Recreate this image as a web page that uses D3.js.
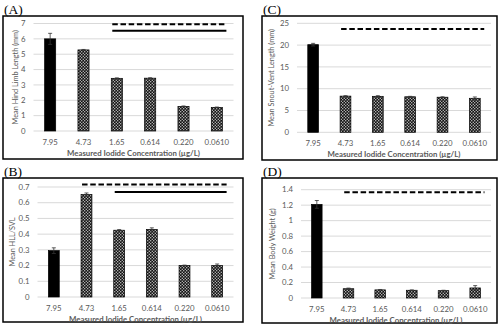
<!DOCTYPE html>
<html>
<head>
<meta charset="utf-8">
<script src="https://cdn.jsdelivr.net/npm/d3@7"></script>
<style>
  body { margin: 0; background: white; }
  svg { display: block; }
</style>
</head>
<body>
<div id="container"></div>
<script>
// categories (measured iodide concentration, ug/L)
const categories = ['7.95', '4.73', '1.65', '0.614', '0.220', '0.0610']

// panel A: hind limb length (mm)
const hllMeans = [6.0, 5.28, 3.43, 3.44, 1.6, 1.54]
const hllErrors = [0.36, 0.03, 0.03, 0.03, 0.03, 0.02]
const hllTicks = [0, 1, 2, 3, 4, 5, 6, 7]
const hllSig = [['1.65', '0.0610', 'dash', 6.95], ['1.65', '0.0610', 'solid', 6.53]]

// panel B: HLL/SVL
const ratioMeans = [0.295, 0.652, 0.425, 0.43, 0.2, 0.2]
const ratioErrors = [0.018, 0.01, 0.004, 0.01, 0.003, 0.01]
const ratioTicks = [0, 0.1, 0.2, 0.3, 0.4, 0.5, 0.6, 0.7]
const ratioSig = [['4.73', '0.0610', 'dash', 0.716], ['1.65', '0.0610', 'solid', 0.668]]

// panel C: snout-vent length (mm)
const svlMeans = [20.1, 8.3, 8.25, 8.15, 8.05, 7.8]
const svlErrors = [0.3, 0.1, 0.15, 0.1, 0.1, 0.3]
const svlTicks = [0, 5, 10, 15, 20, 25]
const svlSig = [['4.73', '0.0610', 'dash', 23.7]]

// panel D: body weight (g)
const bwMeans = [1.21, 0.12, 0.105, 0.1, 0.095, 0.13]
const bwErrors = [0.05, 0.008, 0.005, 0.005, 0.005, 0.03]
const bwTicks = [0, 0.2, 0.4, 0.6, 0.8, 1, 1.2, 1.4]
const bwSig = [['4.73', '0.0610', 'dash', 1.366]]

const FONT = 'Lato, "Open Sans", sans-serif'
const GREY = '#595959'

var svg = d3.select('#container').append('svg')
    .attr('width', 500)
    .attr('height', 326)

// checker pattern for the non-control bars
var defs = svg.append('defs')
var pat = defs.append('pattern')
    .attr('id', 'checker')
    .attr('width', 3).attr('height', 3)
    .attr('patternUnits', 'userSpaceOnUse')
pat.append('rect').attr('width', 3).attr('height', 3).attr('fill', '#111')
pat.append('rect').attr('x', 0.2).attr('y', 0.2).attr('width', 1.1).attr('height', 1.1).attr('fill', 'white')
pat.append('rect').attr('x', 1.7).attr('y', 1.7).attr('width', 1.1).attr('height', 1.1).attr('fill', 'white')

function draw_panel(p) {
    var g = svg.append('g')

    // frame
    g.append('rect')
        .attr('x', p.box[0]).attr('y', p.box[1])
        .attr('width', p.box[2]).attr('height', p.box[3])
        .attr('fill', 'none')
        .attr('stroke', 'black')
        .attr('stroke-width', 1.5)

    // panel letter
    g.append('text')
        .attr('x', p.box[0] + 1).attr('y', p.box[1] - 2.5)
        .attr('font-family', '"Liberation Serif", "DejaVu Serif", serif')
        .attr('font-size', 13.5)
        .text(p.letter)

    var x = d3.scaleBand()
        .domain(categories)
        .range([p.left, p.right])
        .paddingInner(0.667)
        .paddingOuter(0.333)

    var y = d3.scaleLinear()
        .domain([0, p.ticks[p.ticks.length - 1]])
        .range([p.bottom, p.top])

    // gridlines
    g.selectAll('.grid').data(p.ticks.slice(1)).join('line')
        .attr('x1', p.left).attr('x2', p.right)
        .attr('y1', d => y(d)).attr('y2', d => y(d))
        .attr('stroke', '#d9d9d9')
        .attr('stroke-width', 1)

    // baseline
    g.append('line')
        .attr('x1', p.left).attr('x2', p.right)
        .attr('y1', y(0)).attr('y2', y(0))
        .attr('stroke', '#d9d9d9')

    // y tick labels
    g.selectAll('.ytick').data(p.ticks).join('text')
        .attr('x', p.left - p.labelGap)
        .attr('y', d => y(d))
        .attr('dy', '0.35em')
        .attr('text-anchor', 'end')
        .attr('font-family', FONT)
        .attr('font-size', 7.8)
        .attr('fill', GREY)
        .text(d => d3.format('~g')(d))

    // x tick labels
    g.selectAll('.xtick').data(categories).join('text')
        .attr('x', d => x(d) + x.bandwidth() / 2)
        .attr('y', p.bottom + 14)
        .attr('text-anchor', 'middle')
        .attr('font-family', FONT)
        .attr('font-size', 7.8)
        .attr('fill', GREY)
        .text(d => d)

    // x axis title
    g.append('text')
        .attr('x', (p.left + p.right) / 2)
        .attr('y', p.bottom + 25)
        .attr('text-anchor', 'middle')
        .attr('font-family', FONT)
        .attr('font-size', 7.8)
        .attr('font-weight', 'bold')
        .attr('fill', GREY)
        .text('Measured Iodide Concentration (µg/L)')

    // y axis title
    g.append('text')
        .attr('transform', 'translate(' + p.titleX + ',' + ((p.top + p.bottom) / 2) + ') rotate(-90)')
        .attr('text-anchor', 'middle')
        .attr('dy', '0.35em')
        .attr('font-family', FONT)
        .attr('font-size', 7.3)
        .attr('fill', GREY)
        .text(p.yTitle)

    // bars
    g.selectAll('.bar').data(categories).join('rect')
        .attr('x', d => x(d))
        .attr('width', x.bandwidth())
        .attr('y', (d, i) => y(p.means[i]))
        .attr('height', (d, i) => y(0) - y(p.means[i]))
        .attr('fill', (d, i) => i == 0 ? 'black' : 'url(#checker)')
        .attr('stroke', 'black')
        .attr('stroke-width', 0.7)

    // error bars
    g.selectAll('.err').data(categories).join('path')
        .attr('d', function(d, i) {
            var cx = x(d) + x.bandwidth() / 2
            var hi = y(p.means[i] + p.errors[i])
            var lo = y(p.means[i] - p.errors[i])
            return 'M' + (cx - 2) + ',' + hi + 'H' + (cx + 2) +
                   'M' + cx + ',' + hi + 'V' + lo +
                   'M' + (cx - 2) + ',' + lo + 'H' + (cx + 2)
        })
        .attr('fill', 'none')
        .attr('stroke', '#333')
        .attr('stroke-width', 0.8)

    // significance lines
    g.selectAll('.sig').data(p.sig).join('line')
        .attr('x1', d => x(d[0]) + 1)
        .attr('x2', d => x(d[1]) + x.bandwidth() + 4)
        .attr('y1', d => y(d[3])).attr('y2', d => y(d[3]))
        .attr('stroke', 'black')
        .attr('stroke-width', 2)
        .attr('stroke-dasharray', d => d[2] == 'dash' ? '5.5,2.7' : null)
}

draw_panel({letter: '(A)', box: [3, 16, 240, 143], left: 33.5, right: 233.5, top: 23.5, bottom: 131,
    ticks: hllTicks, means: hllMeans, errors: hllErrors, sig: hllSig, labelGap: 8, titleX: 15,
    yTitle: 'Mean Hind Limb Length (mm)'})
draw_panel({letter: '(B)', box: [3, 178, 240, 144], left: 37.5, right: 233.5, top: 187, bottom: 297,
    ticks: ratioTicks, means: ratioMeans, errors: ratioErrors, sig: ratioSig, labelGap: 8, titleX: 12,
    yTitle: 'Mean HLL/SVL'})
draw_panel({letter: '(C)', box: [262, 16, 235, 144], left: 297, right: 491, top: 23.3, bottom: 132.3,
    ticks: svlTicks, means: svlMeans, errors: svlErrors, sig: svlSig, labelGap: 8, titleX: 271,
    yTitle: 'Mean Snout-Vent Length (mm)'})
draw_panel({letter: '(D)', box: [262, 178, 235, 145], left: 301, right: 491, top: 189.7, bottom: 298,
    ticks: bwTicks, means: bwMeans, errors: bwErrors, sig: bwSig, labelGap: 8, titleX: 272,
    yTitle: 'Mean Body Weight (g)'})
</script>
</body>
</html>
